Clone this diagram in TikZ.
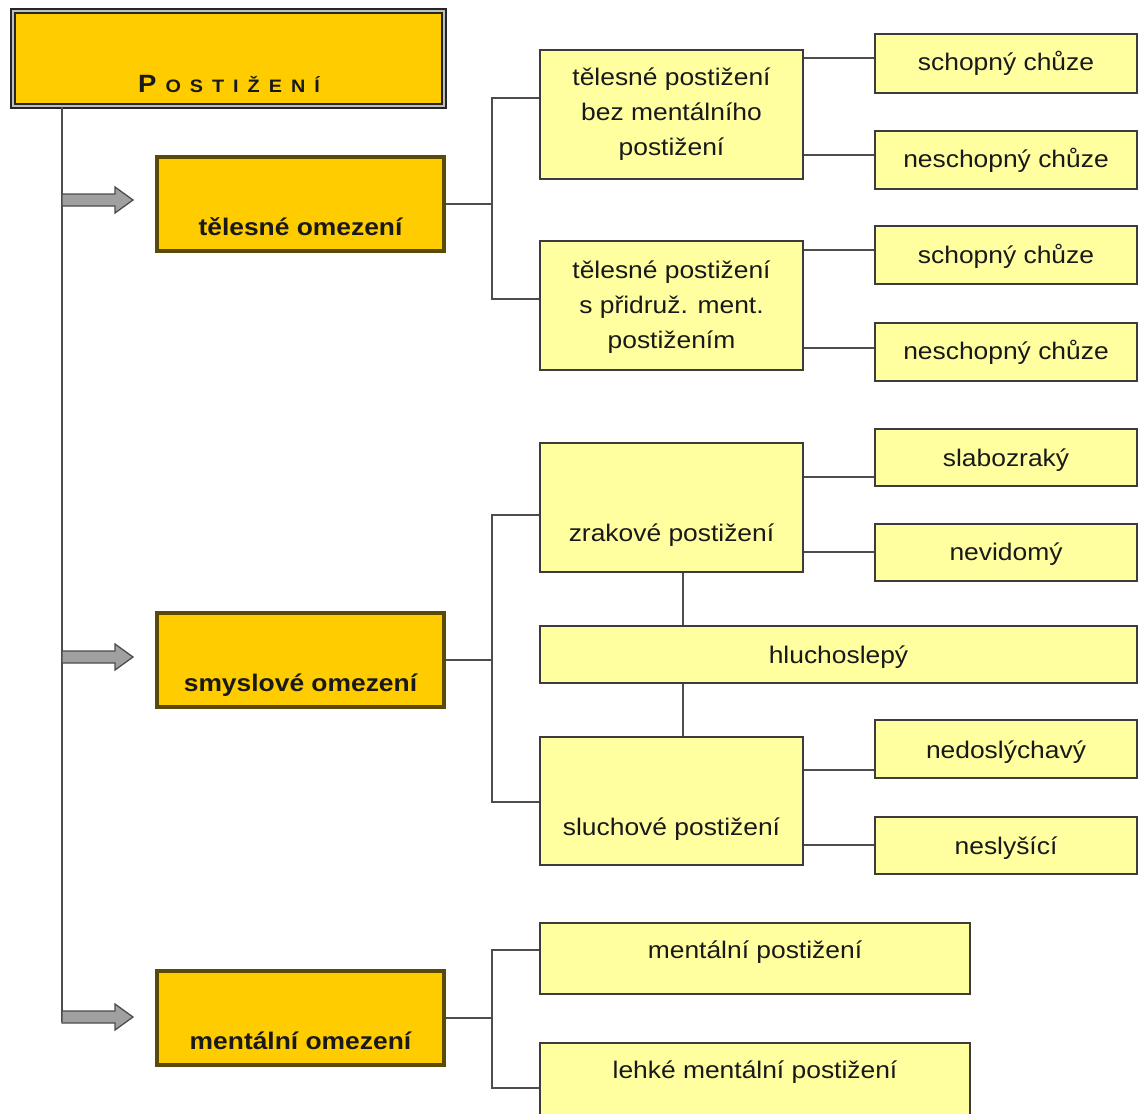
\documentclass[tikz,border=0pt]{standalone}
\usepackage{fontspec}
\setmainfont[FakeStretch=1.1]{Liberation Sans}
\definecolor{dyel}{HTML}{FFCC00}
\definecolor{lyel}{HTML}{FFFFA0}
\definecolor{obord}{HTML}{5A4A08}
\definecolor{lbord}{HTML}{3C3C3C}
\definecolor{conncol}{HTML}{4D4D4D}
\definecolor{arrfill}{HTML}{A0A0A0}
\begin{document}
\begin{tikzpicture}[x=1pt,y=-1pt,
  lbox/.style={draw=lbord, fill=lyel, line width=2.2pt, inner sep=0pt},
  obox/.style={draw=obord, fill=dyel, line width=4pt, inner sep=0pt, minimum width=287pt, minimum height=94pt},
  ltxt/.style={font=\fontsize{24}{35}\selectfont, anchor=base, inner sep=0pt, align=center, text=black!90},
  btxt/.style={font=\fontsize{24}{30}\selectfont\bfseries, anchor=base, inner sep=0pt, text=black!90},
  conn/.style={draw=conncol, line width=2.2pt},
  barrow/.style={draw=conncol, fill=arrfill, line width=1.3pt, line join=miter}
]
\useasboundingbox (0,0) rectangle (1139,1113);
\fill[white] (0,0) rectangle (1139,1113);

% title
\node[draw=black!85, line width=2.2pt, double=black!25, double distance=2pt, fill=dyel,
  minimum width=431pt, minimum height=95pt, inner sep=0pt] (P) at (228.5,58.5) {};
\node[btxt] (Pt) at (229,93) {{\fontsize{25}{25}\selectfont P}\hspace{9pt}{\fontsize{18}{18}\selectfont O\hspace{9pt}S\hspace{9pt}T\hspace{9pt}I\hspace{9pt}Ž\hspace{9pt}E\hspace{9pt}N\hspace{9pt}Í}};

% main category boxes
\node[obox] (TO) at (300.5,204) {};
\node[btxt] (TOt) at (300.5,235) {tělesné omezení};
\node[obox] (SO) at (300.5,660) {};
\node[btxt] (SOt) at (300.5,691) {smyslové omezení};
\node[obox] (MO) at (300.5,1018) {};
\node[btxt] (MOt) at (300.5,1049) {mentální omezení};

% trunk and arrows
\coordinate (trbot) at (62,1022);
\draw[conn] (P.south -| trbot) -- (trbot);
\foreach \n/\yy in {TO/200, SO/657, MO/1017}{
  \coordinate (s\n) at (62,\yy);
  \coordinate (e\n) at ([xshift=-22pt]\n.west |- s\n);
  \draw[barrow] ([yshift=-6pt]s\n) -- ([xshift=-18pt,yshift=-6pt]e\n) -- ([xshift=-18pt,yshift=-13pt]e\n)
     -- (e\n) -- ([xshift=-18pt,yshift=13pt]e\n) -- ([xshift=-18pt,yshift=6pt]e\n) -- ([yshift=6pt]s\n) -- cycle;
}

% ---- tělesné
\node[lbox, minimum width=263pt, minimum height=129pt] (TP1) at (671.5,114.5) {};
\node[ltxt] (TP1t) at (671.5,155) {tělesné postižení\\bez mentálního\\postižení};
\node[lbox, minimum width=263pt, minimum height=129pt] (TP2) at (671.5,305.5) {};
\node[ltxt] (TP2t) at (671.5,348) {tělesné postižení\\s přidruž. ment.\\postižením};

\node[lbox, minimum width=262pt, minimum height=59pt] (SC1) at (1006,63.5) {};
\node[ltxt] (SC1t) at (1006,71) {schopný chůze};
\node[lbox, minimum width=262pt, minimum height=58pt] (NC1) at (1006,160) {};
\node[ltxt] (NC1t) at (1006,167) {neschopný chůze};
\node[lbox, minimum width=262pt, minimum height=58pt] (SC2) at (1006,255) {};
\node[ltxt] (SC2t) at (1006,263) {schopný chůze};
\node[lbox, minimum width=262pt, minimum height=58pt] (NC2) at (1006,352) {};
\node[ltxt] (NC2t) at (1006,359) {neschopný chůze};

\draw[conn] (TO.east) -- (TO.east -| 492,0) coordinate (j1);
\draw[conn] (TP1.west |- 0,98) -| (j1) |- (TP2.west |- 0,299);
\draw[conn] (TP1.east |- 0,58) -- (SC1.west |- 0,58);
\draw[conn] (TP1.east |- 0,155) -- (NC1.west |- 0,155);
\draw[conn] (TP2.east |- 0,250) -- (SC2.west |- 0,250);
\draw[conn] (TP2.east |- 0,348) -- (NC2.west |- 0,348);

% ---- smyslové
\node[lbox, minimum width=263pt, minimum height=129pt] (ZP) at (671.5,507.5) {};
\node[ltxt] (ZPt) at (671.5,541) {zrakové postižení};
\node[lbox, minimum width=597pt, minimum height=57pt] (HS) at (838.5,654.5) {};
\node[ltxt] (HSt) at (838.5,663) {hluchoslepý};
\node[lbox, minimum width=263pt, minimum height=128pt] (SP) at (671.5,801) {};
\node[ltxt] (SPt) at (671.5,835) {sluchové postižení};

\node[lbox, minimum width=262pt, minimum height=57pt] (SZ) at (1006,457.5) {};
\node[ltxt] (SZt) at (1006,466) {slabozraký};
\node[lbox, minimum width=262pt, minimum height=57pt] (NV) at (1006,552.5) {};
\node[ltxt] (NVt) at (1006,560) {nevidomý};
\node[lbox, minimum width=262pt, minimum height=58pt] (ND) at (1006,749) {};
\node[ltxt] (NDt) at (1006,758) {nedoslýchavý};
\node[lbox, minimum width=262pt, minimum height=57pt] (NS) at (1006,845.5) {};
\node[ltxt] (NSt) at (1006,854) {neslyšící};

\draw[conn] (SO.east) -- (SO.east -| 492,0) coordinate (j2);
\draw[conn] (ZP.west |- 0,515) -| (j2) |- (SP.west |- 0,802);
\draw[conn] (ZP.east |- 0,477) -- (SZ.west |- 0,477);
\draw[conn] (ZP.east |- 0,552) -- (NV.west |- 0,552);
\draw[conn] (SP.east |- 0,770) -- (ND.west |- 0,770);
\draw[conn] (SP.east |- 0,845) -- (NS.west |- 0,845);
\draw[conn] (ZP.south -| 683,0) -- (HS.north -| 683,0);
\draw[conn] (HS.south -| 683,0) -- (SP.north -| 683,0);

% ---- mentální
\node[lbox, minimum width=430pt, minimum height=71pt] (MP) at (755,958.5) {};
\node[ltxt] (MPt) at (755,958) {mentální postižení};
\node[lbox, minimum width=430pt, minimum height=76pt] (LMP) at (755,1081) {};
\node[ltxt] (LMPt) at (755,1078) {lehké mentální postižení};

\draw[conn] (MO.east) -- (MO.east -| 492,0) coordinate (j3);
\draw[conn] (MP.west |- 0,950) -| (j3) |- (LMP.west |- 0,1088);
\end{tikzpicture}
\end{document}
